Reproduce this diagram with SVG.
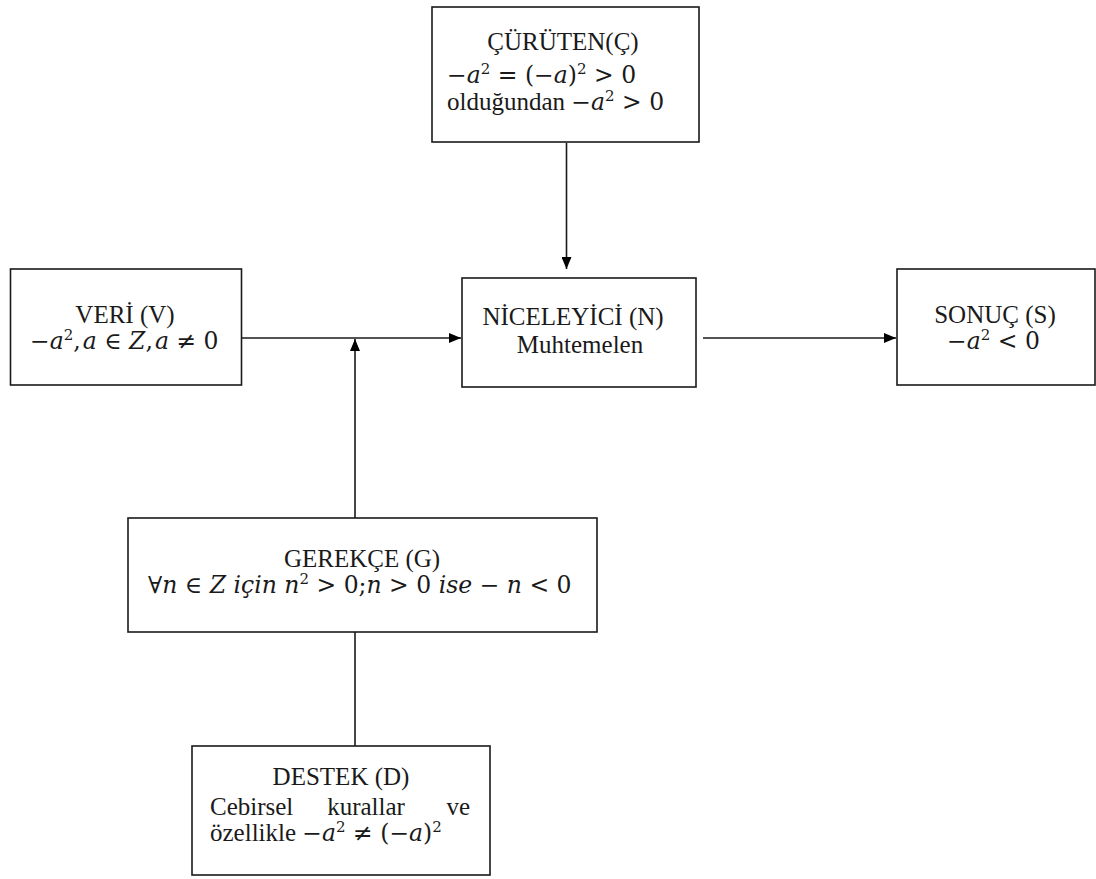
<svg xmlns="http://www.w3.org/2000/svg" width="1096" height="879" viewBox="0 0 1096 879">
  <style>
    .box { fill: #fff; stroke: #1a1a1a; stroke-width: 1.6; }
    .lbl { font-family: "Liberation Serif", "Times New Roman", serif; font-size: 25px; fill: #1a1a1a; }
    .m { font-family: "DejaVu Serif", serif; font-size: 23.5px; }
    .mid { text-anchor: middle; }
    .it { font-style: italic; }
    .sup { font-size: 15px; }
    .wire { fill: none; stroke: #1a1a1a; stroke-width: 1.6; }
  </style>
  <defs>
    <marker id="arrow" viewBox="0 0 12 10" refX="12" refY="5" markerWidth="12" markerHeight="10" markerUnits="userSpaceOnUse" orient="auto">
      <path d="M0,0 L12,5 L0,10 z" fill="#000"/>
    </marker>
  </defs>

  <rect width="1096" height="879" fill="#fff"/>

  <!-- connectors -->
  <g id="connectors">
    <line class="wire" x1="566.5" y1="143" x2="566.5" y2="269" marker-end="url(#arrow)"/>
    <line class="wire" x1="242" y1="338" x2="461" y2="338" marker-end="url(#arrow)"/>
    <line class="wire" x1="355" y1="518" x2="355" y2="339" marker-end="url(#arrow)"/>
    <line class="wire" x1="703" y1="338" x2="896" y2="338" marker-end="url(#arrow)"/>
    <line class="wire" x1="355" y1="632" x2="355" y2="746"/>
  </g>

  <!-- rebuttal -->
  <g id="node-curuten">
    <rect class="box" x="432" y="7" width="267" height="135"/>
    <text class="lbl mid" x="563" y="50">ÇÜRÜTEN(Ç)</text>
    <text class="lbl m" x="447" y="83">−<tspan class="it">a</tspan><tspan class="sup" dy="-9">2</tspan><tspan dy="9"> = (−</tspan><tspan class="it">a</tspan>)<tspan class="sup" dy="-9">2</tspan><tspan dy="9"> &gt; 0</tspan></text>
    <text class="lbl" x="447" y="110">olduğundan <tspan class="m">−</tspan><tspan class="m it">a</tspan><tspan class="m sup" dy="-9">2</tspan><tspan class="m" dy="9"> &gt; 0</tspan></text>
  </g>

  <!-- data -->
  <g id="node-veri">
    <rect class="box" x="10.5" y="269" width="231" height="116"/>
    <text class="lbl mid" x="125" y="323">VERİ (V)</text>
    <text class="lbl m" x="30" y="349">−<tspan class="it">a</tspan><tspan class="sup" dy="-9">2</tspan><tspan dy="9">,</tspan><tspan class="it" dx="2">a</tspan> ∈ <tspan class="it">Z</tspan>,<tspan class="it" dx="2">a</tspan> ≠ 0</text>
  </g>

  <!-- qualifier -->
  <g id="node-niceleyici">
    <rect class="box" x="462" y="278" width="234" height="109"/>
    <text class="lbl mid" x="573" y="325">NİCELEYİCİ (N)</text>
    <text class="lbl mid" x="580" y="353">Muhtemelen</text>
  </g>

  <!-- claim -->
  <g id="node-sonuc">
    <rect class="box" x="897" y="269" width="198" height="116"/>
    <text class="lbl mid" x="995" y="323">SONUÇ (S)</text>
    <text class="lbl m" x="947" y="349">−<tspan class="it">a</tspan><tspan class="sup" dy="-9">2</tspan><tspan dy="9"> &lt; 0</tspan></text>
  </g>

  <!-- warrant -->
  <g id="node-gerekce">
    <rect class="box" x="128" y="518" width="469" height="114"/>
    <text class="lbl mid" x="362" y="567">GEREKÇE (G)</text>
    <text class="lbl m" x="148" y="593">∀<tspan class="it">n</tspan> ∈ <tspan class="it">Z</tspan> <tspan class="it">için</tspan> <tspan class="it">n</tspan><tspan class="sup" dy="-9">2</tspan><tspan dy="9"> &gt; 0;</tspan><tspan class="it">n</tspan> &gt; 0 <tspan class="it">ise</tspan> − <tspan class="it">n</tspan> &lt; 0</text>
  </g>

  <!-- backing -->
  <g id="node-destek">
    <rect class="box" x="192" y="746" width="298" height="129"/>
    <text class="lbl mid" x="341" y="785">DESTEK (D)</text>
    <text class="lbl" x="210" y="815">Cebirsel</text>
    <text class="lbl mid" x="366" y="815">kurallar</text>
    <text class="lbl" x="470" y="815" text-anchor="end">ve</text>
    <text class="lbl" x="210" y="841">özellikle <tspan class="m">−</tspan><tspan class="m it">a</tspan><tspan class="m sup" dy="-9">2</tspan><tspan class="m" dy="9"> ≠ (−</tspan><tspan class="m it">a</tspan><tspan class="m">)</tspan><tspan class="m sup" dy="-9">2</tspan></text>
  </g>
</svg>
